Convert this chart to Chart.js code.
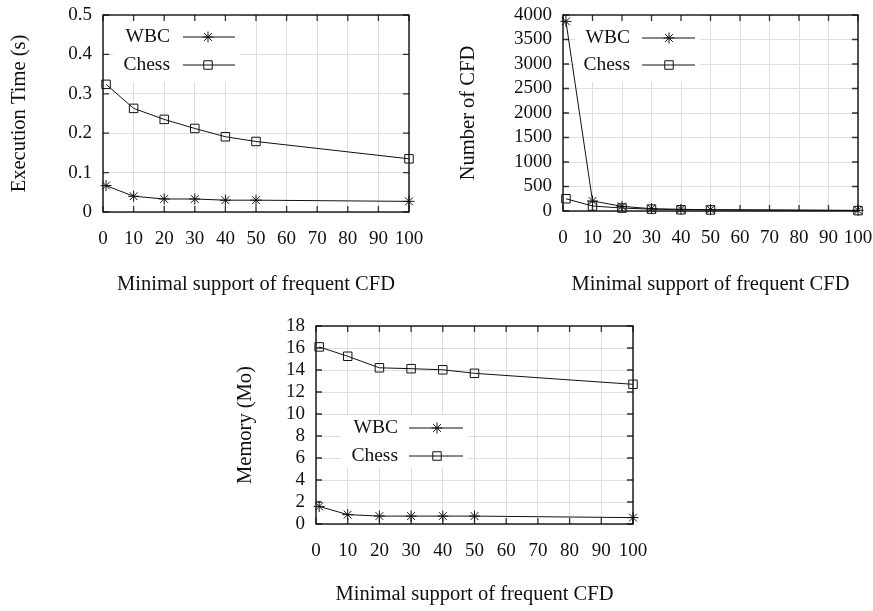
<!DOCTYPE html>
<html>
<head>
<meta charset="utf-8">
<script src="https://cdn.jsdelivr.net/npm/chart.js@4.4.1/dist/chart.umd.min.js"></script>
<style>
html,body{margin:0;padding:0;background:#fff;}
body{width:873px;height:611px;position:relative;overflow:hidden;}
.pane{position:absolute;}
</style>
</head>
<body>
<div class="pane" style="left:0;top:0;width:440px;height:300px"><canvas id="c1"></canvas></div>
<div class="pane" style="left:440px;top:0;width:433px;height:300px"><canvas id="c2"></canvas></div>
<div class="pane" style="left:220px;top:300px;width:450px;height:311px"><canvas id="c3"></canvas></div>
<script>
// ---- data ----
const minSupport = [1, 10, 20, 30, 40, 50, 100];
const seriesNames = ['WBC', 'Chess'];
const xTitle = 'Minimal support of frequent CFD';

const timeWBC   = [0.067, 0.040, 0.033, 0.033, 0.030, 0.030, 0.027];
const timeChess = [0.324, 0.263, 0.235, 0.212, 0.191, 0.179, 0.135];

const cfdWBC    = [3870, 205, 95, 47, 34, 27, 14];
const cfdChess  = [250, 102, 60, 38, 25, 22, 8];

const memWBC    = [1.6, 0.85, 0.72, 0.72, 0.72, 0.72, 0.58];
const memChess  = [16.1, 15.25, 14.2, 14.12, 14.02, 13.7, 12.7];

const xTicks = [0, 10, 20, 30, 40, 50, 60, 70, 80, 90, 100];

const FONT = "'Liberation Serif', 'Times New Roman', serif";
const FS = 19;      // tick labels
const FT = 20.5;    // axis titles
const FL = 19.5;    // legend

function pts(ys){ return minSupport.map((x,i)=>({x:x, y:ys[i]})); }

const frame = {
  id: 'frame',
  beforeDatasetsDraw(chart, args, o){
    const ctx = chart.ctx, a = chart.chartArea;
    const xs = chart.scales.x, ys = chart.scales.y;
    ctx.save();
    // legend white box
    const L = o.leg;
    ctx.fillStyle = '#fff';
    ctx.fillRect(a.left + L.bx, a.top + L.by, L.bw, L.bh);
    // inside ticks
    ctx.strokeStyle = '#333';
    ctx.lineWidth = 1.3;
    ctx.beginPath();
    xs.ticks.forEach(t=>{
      const px = xs.getPixelForValue(t.value);
      ctx.moveTo(px, a.bottom); ctx.lineTo(px, a.bottom - 6);
      ctx.moveTo(px, a.top); ctx.lineTo(px, a.top + 6);
    });
    ys.ticks.forEach(t=>{
      const py = ys.getPixelForValue(t.value);
      ctx.moveTo(a.left, py); ctx.lineTo(a.left + 6, py);
      ctx.moveTo(a.right, py); ctx.lineTo(a.right - 6, py);
    });
    ctx.stroke();
    // frame
    ctx.strokeStyle = '#111';
    ctx.lineWidth = 1.4;
    ctx.strokeRect(a.left, a.top, a.right - a.left, a.bottom - a.top);
    // legend entries
    ctx.font = FL + 'px ' + FONT;
    ctx.textAlign = 'right';
    ctx.textBaseline = 'middle';
    chart.data.datasets.forEach((ds, i)=>{
      const y = a.top + L.rows[i];
      ctx.fillStyle = '#111';
      ctx.fillText(ds.label, a.left + L.tr, y);
      ctx.strokeStyle = '#111';
      ctx.lineWidth = 1;
      ctx.beginPath();
      ctx.moveTo(a.left + L.l0, y); ctx.lineTo(a.left + L.l1, y);
      ctx.stroke();
      ctx.fillStyle = 'rgba(0,0,0,0)';
      Chart.helpers.drawPoint(ctx, {pointStyle: ds.pointStyle, radius: ds.pointRadius, borderWidth: 1}, a.left + L.mk, y);
    });
    ctx.restore();
  }
};

function makeChart(id, yTitle, wbc, chess, yMax, yStep, pad, yW, xH, leg, yDec, yTitlePad, xTitlePad){
  const ctx = document.getElementById(id);
  return new Chart(ctx, {
    type: 'scatter',
    data: {
      datasets: [
        {label: seriesNames[0], data: pts(wbc), showLine: true, borderColor: '#111', borderWidth: 1, clip: false,
         pointStyle: 'star', pointRadius: 5.5, pointBorderColor: '#111', pointBackgroundColor: 'transparent', pointBorderWidth: 1, tension: 0},
        {label: seriesNames[1], data: pts(chess), showLine: true, borderColor: '#111', borderWidth: 1, clip: false,
         pointStyle: 'rect', pointRadius: 6, pointBorderColor: '#111', pointBackgroundColor: 'transparent', pointBorderWidth: 1, tension: 0}
      ]
    },
    options: {
      responsive: true,
      maintainAspectRatio: false,
      animation: false,
      events: [],
      layout: {padding: pad},
      plugins: {legend: {display: false}, tooltip: {enabled: false}, frame: {leg: leg}},
      scales: {
        x: {
          type: 'linear', min: 0, max: 100,
          afterBuildTicks(s){ s.ticks = xTicks.map(v=>({value:v})); },
          afterFit(s){ s.height = xH; s.paddingLeft = 0; s.paddingRight = 0; s.paddingTop = 0; s.paddingBottom = 0; },
          grid: {color: '#dedede', lineWidth: 1, drawTicks: false},
          border: {display: false},
          ticks: {color: '#111', font: {family: FONT, size: FS}, padding: 16, maxRotation: 0, autoSkip: false},
          title: {display: true, text: xTitle, color: '#111', font: {family: FONT, size: FT}, padding: {top: 0, bottom: xTitlePad}}
        },
        y: {
          type: 'linear', min: 0, max: yMax,
          afterBuildTicks(s){ const t=[]; for(let v=0; v<=yMax+1e-9; v+=yStep) t.push({value: +v.toFixed(6)}); s.ticks = t; },
          afterFit(s){ s.width = yW; s.paddingLeft = 0; s.paddingRight = 0; s.paddingTop = 0; s.paddingBottom = 0; },
          grid: {color: '#dedede', lineWidth: 1, drawTicks: false},
          border: {display: false},
          ticks: {color: '#111', font: {family: FONT, size: FS}, padding: 11, autoSkip: false,
                  callback: v => (yDec && v !== 0) ? v.toFixed(yDec) : String(v)},
          title: {display: true, text: yTitle, color: '#111', font: {family: FONT, size: FT}, padding: {top: yTitlePad, bottom: 0}}
        }
      }
    },
    plugins: [frame]
  });
}

makeChart('c1', 'Execution Time (s)', timeWBC, timeChess, 0.5, 0.1,
  {left: 0, right: 31, top: 15, bottom: 0}, 103, 88,
  {bx: 10, by: 0, bw: 127, bh: 67, tr: 67, l0: 80, l1: 132, mk: 105, rows: [22, 50]}, 1, 7, 3);

makeChart('c2', 'Number of CFD', cfdWBC, cfdChess, 4000, 500,
  {left: 0, right: 15, top: 15, bottom: 0}, 123, 89,
  {bx: 12, by: 0, bw: 125, bh: 67, tr: 67, l0: 79, l1: 132, mk: 106, rows: [23, 50]}, 0, 16, 3);

makeChart('c3', 'Memory (Mo)', memWBC, memChess, 18, 2,
  {left: 0, right: 37, top: 26, bottom: 0}, 96, 87,
  {bx: 25, by: 89, bw: 127, bh: 52, tr: 82, l0: 93, l1: 147, mk: 121, rows: [102, 130]}, 0, 13, 4);
</script>
</body>
</html>
